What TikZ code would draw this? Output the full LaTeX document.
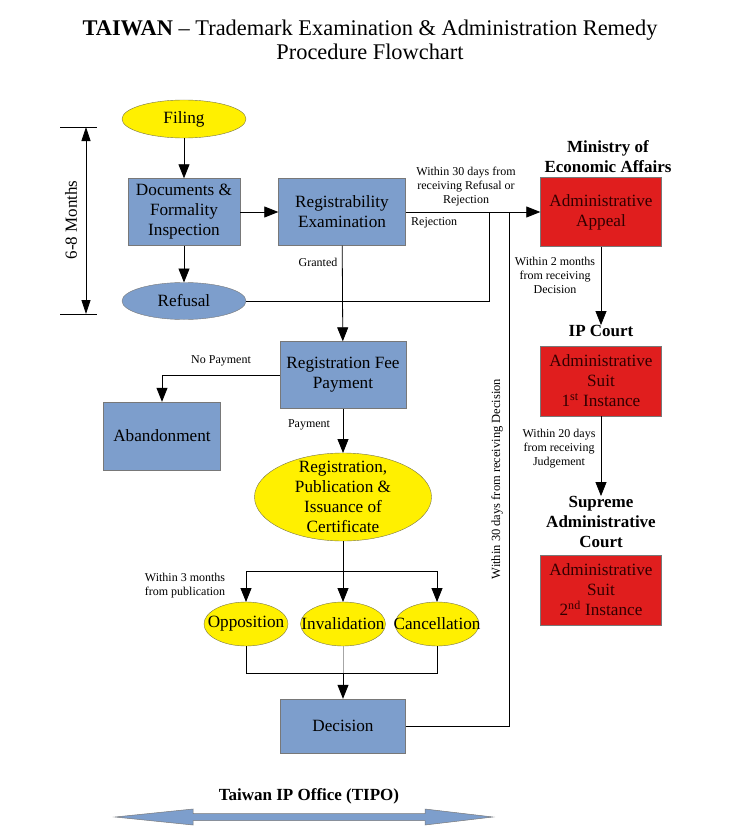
\documentclass[tikz,border=0pt]{standalone}
\usepackage{fontspec}
\setmainfont{Liberation Serif}
\usetikzlibrary{shapes.geometric,arrows.meta}
\definecolor{boxblue}{RGB}{125,158,204}
\definecolor{boxred}{RGB}{224,30,30}
\definecolor{redtext}{RGB}{50,0,0}
\definecolor{ellyel}{RGB}{255,240,0}
\definecolor{bordgray}{RGB}{120,120,120}
\tikzset{
  boxfont/.style={font=\fontsize{17.2}{20}\selectfont},
  bluebox/.style={draw=bordgray, fill=boxblue, align=center, inner sep=0pt, boxfont},
  redbox/.style={draw=bordgray, fill=boxred, text=redtext, align=center, inner sep=0pt,
    minimum width=121pt, minimum height=69pt, boxfont},
  ellbase/.style={ellipse, inner sep=0pt, outer sep=0pt},
  yellell/.style={ellbase, draw=black!60!yellow, fill=ellyel},
  blueell/.style={ellbase, draw=bordgray, fill=boxblue},
  lbl/.style={align=center, inner sep=0pt, boxfont},
  small/.style={align=center, inner sep=0pt, font=\fontsize{12}{14}\selectfont},
  head/.style={align=center, inner sep=0pt, font=\fontsize{17}{20}\selectfont\bfseries},
  arr/.style={-{Triangle[length=14pt,width=11pt]}, line width=0.8pt},
  ln/.style={line width=0.8pt},
}
\begin{document}
\begin{tikzpicture}[x=1pt,y=-1pt]
\useasboundingbox (0,0) rectangle (732,840);
% title
\node[align=center, inner sep=0pt, font=\fontsize{22.4}{24.5}\selectfont] (title) at (370,40)
  {\textbf{TAIWAN} -- Trademark Examination \& Administration Remedy\\Procedure Flowchart};

% left column
\node[yellell, minimum width=124pt, minimum height=38pt, label={[lbl]center:Filing}] (filing) at (184,119) {};
\node[bluebox, minimum width=112pt, minimum height=67pt] (doc) at (184,212) {Documents \&\\Formality\\Inspection};
\node[blueell, minimum width=124pt, minimum height=37pt, label={[lbl]center:Refusal}] (refusal) at (184,301) {};
\node[bluebox, minimum width=127pt, minimum height=67pt] (regex) at (342,212) {Registrability\\Examination};
\node[bluebox, minimum width=126pt, minimum height=67pt] (fee) at (343,375) {Registration Fee\\Payment};
\node[bluebox, minimum width=117pt, minimum height=68pt] (aband) at (162,436) {Abandonment};
\node[yellell, minimum width=177pt, minimum height=88pt,
  label={[lbl]center:Registration,\\Publication \&\\Issuance of\\Certificate}] (reged) at (343,497) {};
\node[yellell, minimum width=84pt, minimum height=44pt, label={[lbl]center:Opposition}] (oppo) at (246,624) {};
\node[yellell, minimum width=85pt, minimum height=44pt, label={[lbl]center:Invalidation}] (inval) at (343,624) {};
\node[yellell, minimum width=84pt, minimum height=44pt, label={[lbl]center:Cancellation}] (cancel) at (437,624) {};
\node[bluebox, minimum width=125pt, minimum height=54pt] (decision) at (343,726) {Decision};

% right column
\node[head] (moea) at (608,157) {Ministry of\\Economic Affairs};
\node[redbox] (appeal) at (601,212) {Administrative\\Appeal};
\node[head] (ipc) at (601,331) {IP Court};
\node[redbox, minimum height=70pt] (suit1) at (601,381) {Administrative\\Suit\\1\textsuperscript{st} Instance};
\node[head] (sac) at (601,522) {Supreme\\Administrative\\Court};
\node[redbox, minimum height=70pt] (suit2) at (601,590) {Administrative\\Suit\\2\textsuperscript{nd} Instance};

% 6-8 months dimension
\coordinate (dt) at (86,127);
\coordinate (db) at (86,314);
\coordinate (dtl) at (60,127); \coordinate (dtr) at (97,127);
\coordinate (dbl) at (60,314); \coordinate (dbr) at (97,314);
\draw[ln] (dtl) -- (dtr);
\draw[ln] (dbl) -- (dbr);
\draw[{Triangle[length=14pt,width=9pt]}-{Triangle[length=14pt,width=9pt]}, line width=0.8pt] (dt) -- (db);
\node[rotate=90, inner sep=0pt, font=\fontsize{17}{18}\selectfont] (months) at (71,220) {6-8 Months};

% connectors
\draw[arr] (filing) -- (doc);
\draw[arr] (doc) -- (refusal);
\draw[arr] (doc) -- (regex);
\draw[arr] (regex.east) -- (appeal.west);
\coordinate (j1) at (489,212);
\coordinate (j2) at (509,212);
\draw[ln] (refusal.east) -| (j1);
\draw[ln] (decision.east) -| (j2);
\draw[arr] (regex) -- (fee);
\draw[arr] (fee.west) -| (aband.north);
\draw[arr] (fee) -- (reged);
\coordinate (b1) at (343,571);
\draw[ln] (reged.south) -- (b1);
\draw[arr] (b1) -| (oppo.north);
\draw[arr] (b1) -| (cancel.north);
\draw[arr] (b1) -- (inval.north);
\coordinate (b2) at (343,673);
\draw[ln] (oppo.south) |- (b2);
\draw[ln] (cancel.south) |- (b2);
\draw[ln, black!35] (inval.south) -- (b2);
\draw[arr] (b2) -- (decision.north);
\draw[arr] (appeal) -- (ipc);
\draw[arr] (suit1) -- (sac);

% small labels
\node[small] (l30) at (466,187) {Within 30 days from\\receiving Refusal or\\Rejection};
\node[small, anchor=west] (lrej) at (411,223) {Rejection};
\node[small] (lgr) at (318,262) {Granted};
\node[small] (lnp) at (221,361) {No Payment};
\node[small] (lpay) at (309,425) {Payment};
\node[small] (l3m) at (185,586) {Within 3 months\\from publication};
\node[small] (l2m) at (555,275) {Within 2 months\\from receiving\\Decision};
\node[small] (l20) at (559,449) {Within 20 days\\from receiving\\Judgement};
\node[small, rotate=90, font=\fontsize{12.5}{14}\selectfont] (l30d) at (497,479) {Within 30 days from receiving Decision};

% TIPO
\node[head] (tipo) at (309,796) {Taiwan IP Office (TIPO)};
\draw[draw=bordgray, fill=boxblue, line width=0.5pt]
  (115,817) -- (193,809) -- (193,813.5) -- (425,813.5) -- (425,809) -- (493,817)
  -- (425,825) -- (425,820.5) -- (193,820.5) -- (193,825) -- cycle;
\end{tikzpicture}
\end{document}
